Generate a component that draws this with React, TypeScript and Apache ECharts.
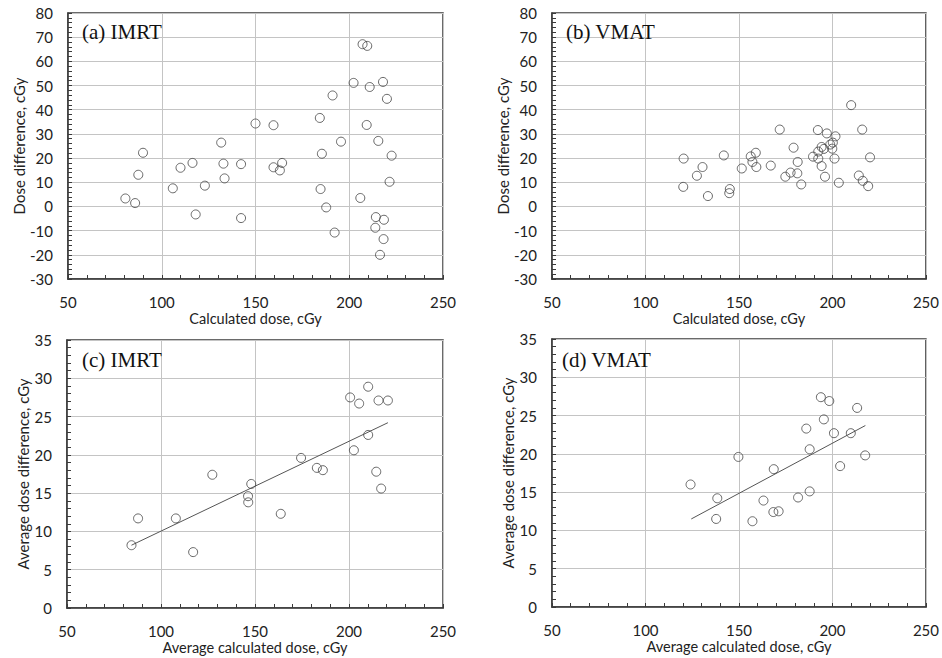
import React, { useEffect, useRef } from "react";
import * as echarts from "echarts";

// (a) IMRT: calculated dose vs dose difference
const imrtDose = [80.6, 85.8, 87.5, 90.0, 105.9, 110.0, 116.4, 118.1, 123.0, 131.7, 132.9, 133.5, 142.3, 142.3, 150.0, 159.6, 159.6, 163.0, 164.2, 184.3, 185.4, 184.7, 187.7, 191.1, 192.2, 195.6, 202.3, 205.9, 207.1, 209.6, 209.3, 210.9, 215.5, 218.0, 220.1, 222.6, 221.5, 214.2, 213.9, 218.5, 218.3, 216.4];
const imrtDiff = [3.3, 1.4, 13.1, 22.2, 7.5, 16.0, 18.0, -3.3, 8.6, 26.4, 17.7, 11.6, 17.5, -4.8, 34.3, 33.6, 16.2, 14.9, 18.0, 36.6, 21.8, 7.2, -0.4, 45.9, -10.8, 26.8, 51.1, 3.5, 67.1, 66.4, 33.7, 49.4, 27.1, 51.5, 44.5, 21.0, 10.2, -4.4, -8.8, -5.5, -13.5, -20.0];

// (b) VMAT
const vmatDose = [120.4, 120.2, 127.5, 130.5, 133.4, 141.9, 145.1, 144.8, 151.5, 156.3, 157.2, 159.0, 159.3, 167.0, 171.8, 174.8, 177.6, 179.2, 181.4, 181.2, 183.3, 189.6, 192.2, 192.4, 192.4, 194.2, 195.4, 194.2, 196.0, 197.0, 198.8, 200.2, 199.9, 201.6, 201.1, 203.4, 210.0, 214.1, 215.9, 216.2, 219.1, 220.1];
const vmatDiff = [19.8, 8.1, 12.7, 16.3, 4.3, 21.1, 7.2, 5.5, 15.7, 20.7, 18.4, 22.2, 16.3, 16.9, 31.8, 12.3, 14.0, 24.3, 18.4, 13.7, 9.1, 20.6, 31.6, 22.7, 19.8, 24.6, 23.8, 16.7, 12.3, 30.2, 25.6, 26.4, 23.9, 29.0, 19.8, 9.8, 41.9, 12.8, 31.8, 10.6, 8.4, 20.3];

// (c) IMRT averages
const imrtAvgDose = [84.3, 87.8, 107.9, 117.1, 127.3, 146.3, 146.4, 148.0, 163.7, 174.5, 182.9, 186.1, 200.6, 205.4, 202.6, 210.2, 210.2, 214.5, 215.7, 217.1, 220.7];
const imrtAvgDiff = [8.2, 11.7, 11.7, 7.3, 17.4, 14.6, 13.8, 16.2, 12.3, 19.6, 18.3, 18.0, 27.5, 26.7, 20.6, 28.9, 22.6, 17.8, 27.1, 15.6, 27.1];
const imrtTrendX = [84.3, 220.7];
const imrtTrendY = [8.2, 24.2];

// (d) VMAT averages
const vmatAvgDose = [124.1, 138.4, 137.8, 149.7, 157.2, 163.1, 168.6, 168.4, 171.2, 181.6, 186.0, 187.8, 187.8, 193.8, 195.4, 198.3, 200.8, 204.1, 209.8, 213.2, 217.5];
const vmatAvgDiff = [16.0, 14.2, 11.5, 19.6, 11.2, 13.9, 18.0, 12.4, 12.5, 14.3, 23.3, 20.6, 15.1, 27.4, 24.5, 26.9, 22.7, 18.4, 22.7, 26.0, 19.8];
const vmatTrendX = [124.5, 217.6];
const vmatTrendY = [11.5, 23.7];

const panelTitles = ["(a) IMRT", "(b) VMAT", "(c) IMRT", "(d) VMAT"];
const xNames = ["Calculated dose, cGy", "Calculated dose, cGy", "Average calculated dose, cGy", "Average calculated dose, cGy"];
const yNames = ["Dose difference, cGy", "Dose difference, cGy", "Average dose difference, cGy", "Average dose difference, cGy"];

const zip = (xs: number[], ys: number[]) => xs.map((x, i) => [x, ys[i]]);

const FONT = "Lato";
const DARK = "#3a3a3a";
const GRIDC = "#c4c4c4";

export default function App() {
  const ref = useRef<HTMLDivElement>(null);
  useEffect(() => {
    if (!ref.current) return;
    const chart = echarts.init(ref.current, undefined, { renderer: "svg" });
    const grids = [
      { left: 68, top: 13, width: 375, height: 266 },
      { left: 552, top: 13, width: 375, height: 266 },
      { left: 67, top: 340, width: 376, height: 268 },
      { left: 552, top: 339, width: 375, height: 268 },
    ].map((g) => ({ ...g, show: true, borderColor: DARK, borderWidth: 1.5, backgroundColor: "transparent" }));

    const yRanges = [
      { min: -30, max: 80, interval: 10 },
      { min: -30, max: 80, interval: 10 },
      { min: 0, max: 35, interval: 5 },
      { min: 0, max: 35, interval: 5 },
    ];
    const yNameGaps = [40, 40, 34, 35];

    const xAxis = [0, 1, 2, 3].map((i) => ({
      type: "value",
      gridIndex: i,
      min: 50,
      max: 250,
      interval: 50,
      name: xNames[i],
      nameLocation: "middle",
      nameGap: 31,
      nameTextStyle: { fontFamily: FONT, fontSize: 14.5, color: "#222", lineHeight: 16 },
      axisLine: { show: true, onZero: false, lineStyle: { color: DARK, width: 1.5 } },
      axisTick: { show: true, inside: true, length: 4, lineStyle: { color: DARK } },
      minorTick: { show: true, splitNumber: 5, length: 4, lineStyle: { color: DARK } },
      axisLabel: { fontFamily: FONT, fontSize: 15, color: "#222", margin: 15, lineHeight: 16 },
      splitLine: { show: true, lineStyle: { color: GRIDC, width: 1 } },
    }));

    const yAxis = [0, 1, 2, 3].map((i) => ({
      type: "value",
      gridIndex: i,
      ...yRanges[i],
      name: yNames[i],
      nameLocation: "middle",
      nameGap: yNameGaps[i],
      nameTextStyle: { fontFamily: FONT, fontSize: 15, color: "#222" },
      axisLine: { show: true, onZero: false, lineStyle: { color: DARK, width: 1.5 } },
      axisTick: { show: true, inside: true, length: 4, lineStyle: { color: DARK } },
      minorTick: { show: true, splitNumber: 5, length: 4, lineStyle: { color: DARK } },
      axisLabel: { fontFamily: FONT, fontSize: 15, color: "#222", margin: 15 },
      splitLine: { show: true, lineStyle: { color: GRIDC, width: 1 } },
    }));

    const scatter = (i: number, data: number[][]) => ({
      type: "scatter",
      xAxisIndex: i,
      yAxisIndex: i,
      data,
      symbol: "circle",
      symbolSize: 9,
      itemStyle: { color: "rgba(255,255,255,0)", borderColor: "#444", borderWidth: 1 },
      z: 3,
    });
    const trend = (i: number, data: number[][]) => ({
      type: "line",
      xAxisIndex: i,
      yAxisIndex: i,
      data,
      symbol: "none",
      lineStyle: { color: "#555", width: 1 },
      z: 2,
    });

    const titlePos = [
      { left: 82, top: 32 },
      { left: 566, top: 32 },
      { left: 82, top: 360 },
      { left: 562, top: 360 },
    ];

    chart.setOption({
      animation: false,
      backgroundColor: "#fff",
      grid: grids,
      xAxis,
      yAxis,
      series: [
        scatter(0, zip(imrtDose, imrtDiff)),
        scatter(1, zip(vmatDose, vmatDiff)),
        scatter(2, zip(imrtAvgDose, imrtAvgDiff)),
        trend(2, zip(imrtTrendX, imrtTrendY)),
        scatter(3, zip(vmatAvgDose, vmatAvgDiff)),
        trend(3, zip(vmatTrendX, vmatTrendY)),
      ],
      graphic: panelTitles.map((t, i) => ({
        type: "text",
        x: titlePos[i].left,
        y: titlePos[i].top,
        z: 10,
        style: {
          text: t,
          font: "21px 'Liberation Serif', 'Times New Roman', serif",
          fill: "#111",
          verticalAlign: "middle",
          align: "left",
        },
      })),
    });
    return () => chart.dispose();
  }, []);
  return <div ref={ref} style={{ position: "fixed", left: 0, top: 0, width: 942, height: 658, background: "#fff" }} />;
}
